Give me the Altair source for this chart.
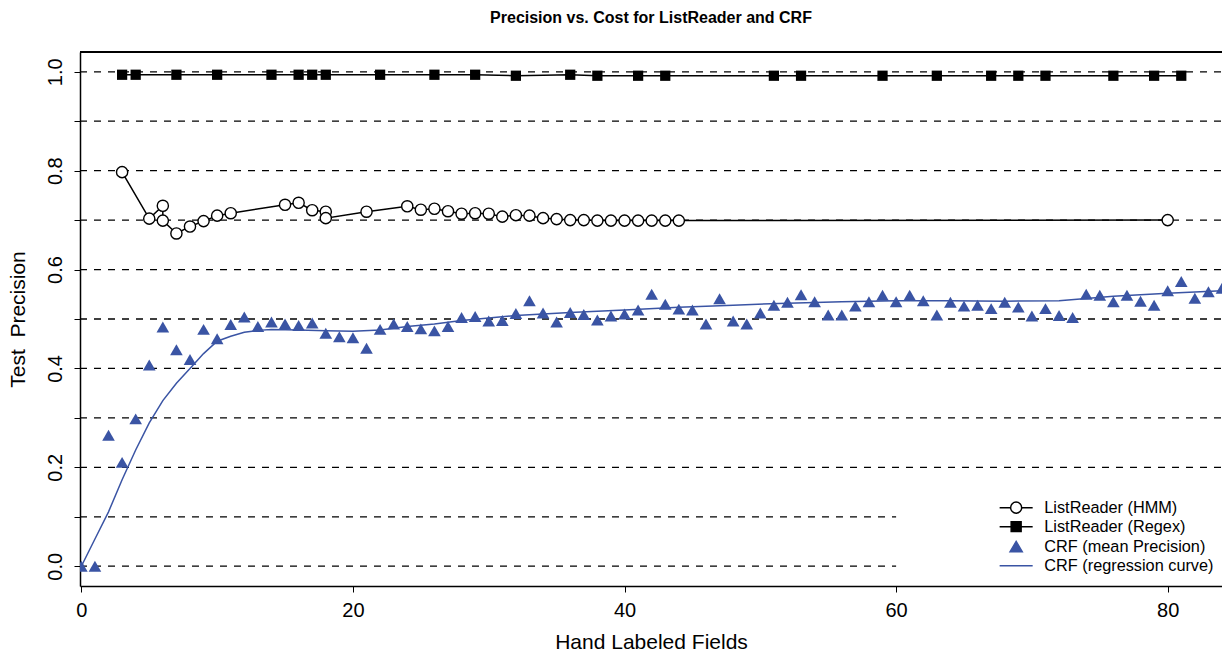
import altair as alt
import pandas as pd

FONT = "Liberation Sans"
BLUE = "#3A54A4"

# ListReader (HMM): drawn in this order (x repeats at 6 and 18)
hmm_x = [3, 5, 6, 6, 7, 8, 9, 10, 11, 15, 16, 17, 18, 18, 21, 24, 25, 26, 27, 28,
         29, 30, 31, 32, 33, 34, 35, 36, 37, 38, 39, 40, 41, 42, 43, 44, 80]
hmm_y = [0.797, 0.703, 0.729, 0.699, 0.673, 0.687, 0.698, 0.709, 0.714, 0.731,
         0.735, 0.720, 0.717, 0.704, 0.717, 0.728, 0.721, 0.723, 0.718, 0.713,
         0.714, 0.713, 0.707, 0.710, 0.709, 0.704, 0.702, 0.700, 0.700, 0.699,
         0.699, 0.699, 0.699, 0.699, 0.699, 0.699, 0.700]

# ListReader (Regex)
regex_x = [3, 4, 7, 10, 14, 16, 17, 18, 22, 26, 29, 32, 36, 38, 41, 43, 51, 53,
           59, 63, 67, 69, 71, 76, 79, 81]
regex_y = [0.994, 0.994, 0.994, 0.994, 0.994, 0.994, 0.994, 0.994, 0.994, 0.994,
           0.994, 0.992, 0.994, 0.992, 0.992, 0.992, 0.992, 0.992, 0.992, 0.992,
           0.992, 0.992, 0.992, 0.992, 0.992, 0.992]

# CRF mean precision
crf_x = list(range(0, 85))
crf_y = [0.000, 0.000, 0.265, 0.210, 0.298, 0.407, 0.484, 0.438, 0.418, 0.479,
         0.460, 0.489, 0.504, 0.485, 0.494, 0.490, 0.487, 0.492, 0.471, 0.464,
         0.462, 0.441, 0.479, 0.490, 0.485, 0.480, 0.476, 0.485, 0.503, 0.505,
         0.496, 0.497, 0.511, 0.537, 0.512, 0.494, 0.513, 0.509, 0.498, 0.506,
         0.510, 0.518, 0.550, 0.530, 0.520, 0.518, 0.490, 0.541, 0.496, 0.490,
         0.512, 0.528, 0.534, 0.549, 0.535, 0.508, 0.508, 0.526, 0.535, 0.548,
         0.535, 0.548, 0.537, 0.508, 0.534, 0.526, 0.528, 0.521, 0.534, 0.524,
         0.506, 0.521, 0.507, 0.503, 0.550, 0.548, 0.535, 0.548, 0.536, 0.528,
         0.557, 0.576, 0.542, 0.555, 0.562]

# CRF regression curve
curve_x = [0, 1, 2, 3, 4, 5, 6, 7, 8, 9, 10, 11, 12, 13, 14, 16, 18, 20, 22, 24,
           26, 28, 30, 32, 36, 40, 44, 48, 52, 56, 60, 64, 68, 72, 76, 80, 84]
curve_y = [0.000, 0.055, 0.110, 0.175, 0.235, 0.290, 0.335, 0.370, 0.400, 0.430,
           0.455, 0.465, 0.473, 0.477, 0.479, 0.478, 0.476, 0.475, 0.478, 0.485,
           0.490, 0.497, 0.502, 0.507, 0.513, 0.518, 0.524, 0.528, 0.532, 0.535,
           0.537, 0.537, 0.536, 0.537, 0.546, 0.552, 0.557]

# dashed reference lines
grid_levels = [0.0, 0.1, 0.2, 0.3, 0.4, 0.5, 0.6, 0.7, 0.8, 0.9, 1.0]
grid_end = [60, 60, 84, 84, 84, 84, 84, 84, 84, 84, 84]

y_ticks = [0.0, 0.1, 0.2, 0.3, 0.4, 0.5, 0.6, 0.7, 0.8, 0.9, 1.0]
x_ticks = [0, 20, 40, 60, 80]

legend_labels = ["ListReader (HMM)", "ListReader (Regex)",
                 "CRF (mean Precision)", "CRF (regression curve)"]
legend_shapes = [
    "M-2.36,0L-0.79,0M0.79,0L2.36,0M-0.79,0A0.79,0.79,0,1,0,0.79,0A0.79,0.79,0,1,0,-0.79,0Z",
    "M-2.36,0L2.36,0M-0.71,-0.71L0.71,-0.71L0.71,0.71L-0.71,0.71Z",
    "M0,-0.75L0.87,0.72L-0.87,0.72Z",
    "M-2.36,0L2.36,0",
]
legend_fill = ["white", "black", BLUE, "transparent"]
legend_stroke = ["black", "black", BLUE, BLUE]

W, H = 1142, 534
X_DOMAIN = [-0.1, 84]
Y_DOMAIN = [-0.04, 1.04]

xs = alt.Scale(domain=X_DOMAIN, nice=False, zero=False)
ys = alt.Scale(domain=Y_DOMAIN, nice=False, zero=False)

x_axis = alt.Axis(values=x_ticks, format="d", tickSize=6, tickColor="black",
                  labelFontSize=20, labelPadding=8, labelColor="black",
                  labelFlush=False, title="Hand Labeled Fields", titleFontSize=21,
                  titleFontWeight="normal", titleColor="black", titlePadding=11,
                  domainColor="black", domainWidth=1.5, grid=False)
y_axis = alt.Axis(values=y_ticks,
                  labelExpr="round(datum.value*10) % 2 == 0 ? format(datum.value, '.1f') : ''",
                  labelAngle=270, labelAlign="center", labelBaseline="bottom",
                  tickSize=6, tickColor="black", labelFontSize=20, labelPadding=9,
                  labelColor="black", labelFlush=False,
                  title="Test\u00a0 Precision", titleFontSize=21, titleFontWeight="normal",
                  titleColor="black", titlePadding=17,
                  domainColor="black", domainWidth=1.5, grid=False)

X = alt.X("x:Q", scale=xs, axis=x_axis)
Y = alt.Y("y:Q", scale=ys, axis=y_axis)

grid_df = pd.DataFrame({"y": grid_levels, "x": [X_DOMAIN[0]] * len(grid_levels),
                        "x2": grid_end})
hmm_df = pd.DataFrame({"x": hmm_x, "y": hmm_y, "i": list(range(len(hmm_x)))})
regex_df = pd.DataFrame({"x": regex_x, "y": regex_y})
crf_df = pd.DataFrame({"x": crf_x, "y": crf_y})
curve_df = pd.DataFrame({"x": curve_x, "y": curve_y})
legend_df = pd.DataFrame({"series": legend_labels, "x": [500] * 4, "y": [0.5] * 4})

grid = alt.Chart(grid_df).mark_rule(color="black", strokeWidth=1.3,
                                    strokeDash=[7, 7], clip=True).encode(
    x=X, x2="x2:Q", y=Y)

top_frame = alt.Chart(grid_df).mark_rule(color="black", strokeWidth=1.5).encode(
    x=alt.value(0), x2=alt.value(W), y=alt.value(0))

hmm_line = alt.Chart(hmm_df).mark_line(color="black", strokeWidth=1.5).encode(
    x=X, y=Y, order="i:Q")
hmm_pts = alt.Chart(hmm_df).mark_point(shape="circle", size=125, filled=False,
                                       color="black", fill="white", fillOpacity=1,
                                       strokeWidth=1.4, opacity=1).encode(x=X, y=Y)

regex_line = alt.Chart(regex_df).mark_line(color="black", strokeWidth=1.5).encode(
    x=X, y=Y)
regex_pts = alt.Chart(regex_df).mark_point(shape="square", size=105, filled=True,
                                           color="black", opacity=1).encode(x=X, y=Y)

crf_pts = alt.Chart(crf_df).mark_point(shape="triangle-up", size=160, filled=True,
                                       color=BLUE, opacity=1, clip=True).encode(x=X, y=Y)
curve = alt.Chart(curve_df).mark_line(color=BLUE, strokeWidth=1.5, clip=True).encode(
    x=X, y=Y)

leg = alt.Legend(title=None, orient="none", legendX=928, legendY=447.5,
                 labelFont=FONT, labelFontSize=16.3, labelColor="black",
                 labelLimit=400, labelOffset=20, rowPadding=2, symbolSize=196,
                 symbolStrokeWidth=1.5, padding=0)
legend_layer = alt.Chart(legend_df).mark_point(filled=True, size=196, clip=True,
                                               strokeWidth=1.5, opacity=1).encode(
    x=X, y=Y,
    shape=alt.Shape("series:N", scale=alt.Scale(domain=legend_labels, range=legend_shapes), legend=leg),
    fill=alt.Fill("series:N", scale=alt.Scale(domain=legend_labels, range=legend_fill), legend=leg),
    stroke=alt.Stroke("series:N", scale=alt.Scale(domain=legend_labels, range=legend_stroke), legend=leg),
)

chart = alt.layer(grid, curve, crf_pts, hmm_line, hmm_pts, regex_line, regex_pts,
                  top_frame, legend_layer).properties(
    width=W, height=H,
    title=alt.TitleParams("Precision vs. Cost for ListReader and CRF", font=FONT,
                          fontSize=16, fontWeight="bold", color="black",
                          anchor="middle", offset=25),
    autosize=alt.AutoSizeParams(type="none"),
    padding={"left": 80, "top": 52, "right": 0, "bottom": 70},
).configure_view(stroke=None).configure_axis(
    labelFont=FONT, titleFont=FONT
).configure(background="white")

chart.save("out.html", embed_options={"renderer": "svg", "actions": False})
